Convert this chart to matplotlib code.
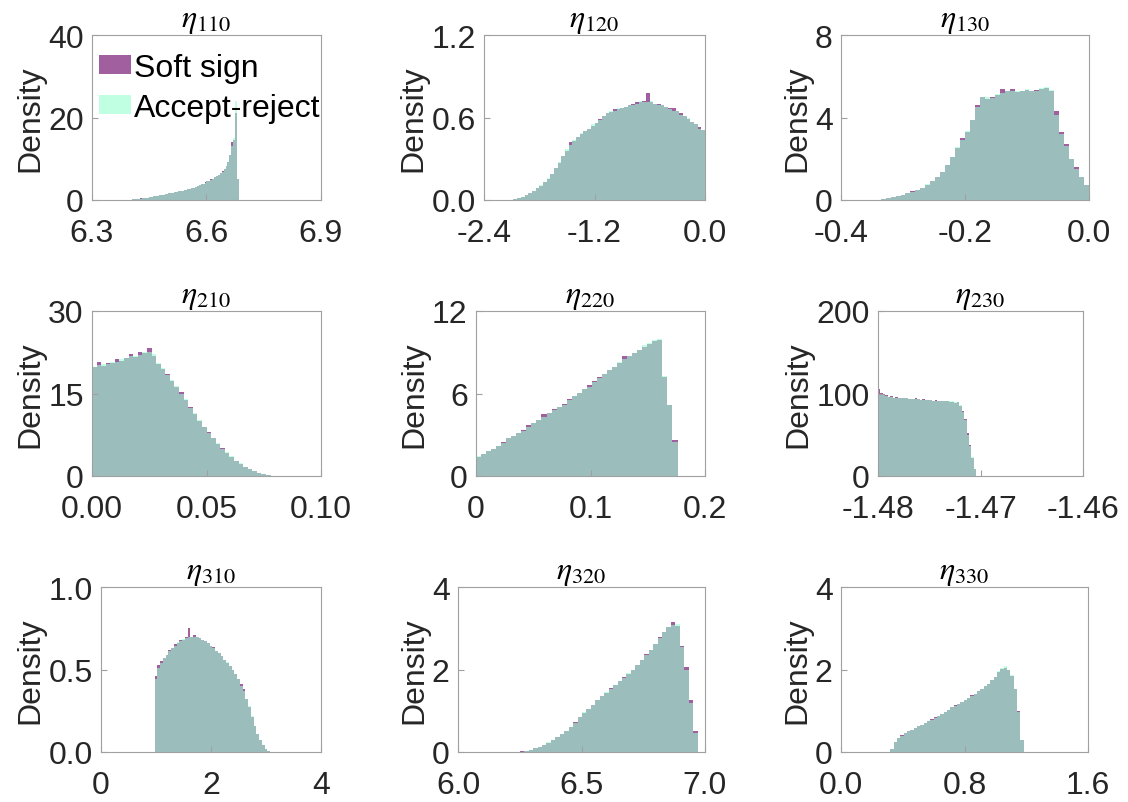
import numpy as np
import matplotlib
matplotlib.use("Agg")
import matplotlib.pyplot as plt

plt.rcParams["font.family"] = ["Liberation Sans", "DejaVu Sans"]
plt.rcParams["mathtext.fontset"] = "stix"

# panel titles and axis ticks
titles = [r"$\eta_{110}$", r"$\eta_{120}$", r"$\eta_{130}$",
          r"$\eta_{210}$", r"$\eta_{220}$", r"$\eta_{230}$",
          r"$\eta_{310}$", r"$\eta_{320}$", r"$\eta_{330}$"]
xtick_vals = [[6.3, 6.6, 6.9], [-2.4, -1.2, 0.0], [-0.4, -0.2, 0.0],
              [0.0, 0.05, 0.10], [0.0, 0.1, 0.2], [-1.48, -1.47, -1.46],
              [0, 2, 4], [6.0, 6.5, 7.0], [0.0, 0.8, 1.6]]
xtick_text = [["6.3", "6.6", "6.9"], ["-2.4", "-1.2", "0.0"], ["-0.4", "-0.2", "0.0"],
              ["0.00", "0.05", "0.10"], ["0", "0.1", "0.2"], ["-1.48", "-1.47", "-1.46"],
              ["0", "2", "4"], ["6.0", "6.5", "7.0"], ["0.0", "0.8", "1.6"]]
ytick_vals = [[0, 20, 40], [0.0, 0.6, 1.2], [0, 4, 8],
              [0, 15, 30], [0, 6, 12], [0, 100, 200],
              [0.0, 0.5, 1.0], [0, 2, 4], [0, 2, 4]]
ytick_text = [["0", "20", "40"], ["0.0", "0.6", "1.2"], ["0", "4", "8"],
              ["0", "15", "30"], ["0", "6", "12"], ["0", "100", "200"],
              ["0.0", "0.5", "1.0"], ["0", "2", "4"], ["0", "2", "4"]]

# histogram support (first and last bin edge) per panel
bin_ranges = [(6.40, 6.685), (-2.08, 0.0), (-0.336, 0.0),
              (0.0, 0.08), (0.0, 0.176), (-1.48, -1.4704),
              (0.975, 3.075), (6.25, 6.97), (0.32, 1.184)]

# densities
soft_110 = [0.1, 0.15, 0.2, 0.25, 0.3, 0.4, 0.45, 0.5, 0.55, 0.6,
            0.7, 0.8, 0.85, 0.95, 1.0, 1.1, 1.2, 1.3, 1.4, 1.5,
            1.6, 1.7, 1.8, 1.9, 2.0, 2.1, 2.2, 2.3, 2.4, 2.5,
            2.6, 2.75, 2.9, 3.0, 3.2, 3.4, 3.6, 3.8, 4.0, 4.3,
            4.5, 4.7, 5.0, 5.2, 5.5, 5.8, 6.1, 6.5, 7.0, 7.5,
            8.3, 9.3, 11.0, 14.0, 14.5, 21.0, 5.0]
ar_110 = [0.1, 0.15, 0.2, 0.25, 0.3, 0.35, 0.45, 0.5, 0.55, 0.6,
          0.7, 0.75, 0.85, 0.9, 1.0, 1.1, 1.2, 1.3, 1.35, 1.5,
          1.6, 1.7, 1.8, 1.9, 2.0, 2.1, 2.2, 2.3, 2.4, 2.5,
          2.6, 2.7, 2.9, 3.0, 3.2, 3.4, 3.6, 3.8, 4.0, 4.2,
          4.5, 4.7, 4.9, 5.2, 5.5, 5.8, 6.1, 6.5, 6.8, 7.5,
          8.3, 9.3, 11.0, 13.2, 15.0, 24.0, 5.0]

soft_120 = [0.005, 0.012, 0.02, 0.035, 0.05, 0.065, 0.085, 0.105, 0.13, 0.155,
            0.19, 0.23, 0.27, 0.32, 0.36, 0.42, 0.43, 0.46, 0.48, 0.50,
            0.52, 0.54, 0.56, 0.59, 0.61, 0.63, 0.64, 0.66, 0.66, 0.67,
            0.68, 0.69, 0.70, 0.71, 0.71, 0.72, 0.78, 0.71, 0.70, 0.70,
            0.69, 0.68, 0.67, 0.67, 0.65, 0.63, 0.61, 0.59, 0.57, 0.55,
            0.53, 0.51]
ar_120 = [0.004, 0.012, 0.022, 0.035, 0.052, 0.068, 0.085, 0.11, 0.13, 0.16,
          0.19, 0.23, 0.28, 0.32, 0.37, 0.40, 0.44, 0.46, 0.49, 0.50,
          0.52, 0.55, 0.56, 0.58, 0.61, 0.63, 0.65, 0.65, 0.67, 0.67,
          0.68, 0.69, 0.69, 0.70, 0.72, 0.71, 0.71, 0.72, 0.70, 0.69,
          0.69, 0.68, 0.66, 0.65, 0.65, 0.62, 0.61, 0.60, 0.57, 0.55,
          0.52, 0.51]

soft_130 = [0.05, 0.1, 0.15, 0.2, 0.26, 0.32, 0.42, 0.5, 0.6, 0.75,
            0.92, 1.1, 1.35, 1.7, 2.1, 2.5, 3.0, 3.3, 3.9, 4.6,
            5.0, 4.9, 5.0, 5.1, 5.4, 5.3, 5.4, 5.25, 5.3, 5.35,
            5.3, 5.35, 5.4, 5.45, 5.3, 4.3, 3.3, 2.7, 2.0, 1.6,
            1.1, 0.75]
ar_130 = [0.05, 0.1, 0.15, 0.21, 0.26, 0.33, 0.4, 0.48, 0.6, 0.76,
          0.92, 1.1, 1.38, 1.7, 2.1, 2.55, 2.9, 3.35, 3.9, 4.5,
          5.0, 5.0, 4.95, 5.15, 5.2, 5.3, 5.3, 5.3, 5.3, 5.4,
          5.3, 5.3, 5.45, 5.5, 5.35, 4.1, 3.2, 2.6, 2.0, 1.5,
          1.1, 0.75]

soft_210 = [19.8, 20.8, 20.0, 20.6, 20.6, 21.2, 21.0, 21.4, 22.2, 21.6,
            22.6, 22.3, 23.2, 21.8, 20.3, 19.4, 18.6, 17.3, 16.2, 15.2,
            13.8, 12.6, 11.2, 10.0, 8.9, 8.0, 6.9, 5.9, 5.1, 4.2,
            3.5, 2.8, 2.2, 1.7, 1.3, 0.9, 0.6, 0.35, 0.2, 0.06]
ar_210 = [19.9, 20.2, 20.3, 20.4, 20.8, 20.8, 21.2, 21.5, 21.8, 21.9,
          22.0, 22.5, 22.6, 22.2, 20.5, 19.6, 18.4, 17.5, 16.3, 15.0,
          14.0, 12.4, 11.4, 10.1, 9.0, 7.9, 7.0, 6.0, 5.0, 4.3,
          3.6, 2.8, 2.3, 1.7, 1.3, 0.95, 0.6, 0.4, 0.18, 0.06]

soft_220 = [1.4, 1.6, 1.8, 2.0, 2.2, 2.5, 2.75, 2.9, 3.1, 3.35,
            3.7, 3.85, 4.1, 4.5, 4.6, 4.9, 5.0, 5.25, 5.6, 5.8,
            6.05, 6.3, 6.6, 6.9, 7.2, 7.4, 7.7, 7.95, 8.2, 8.7,
            8.7, 8.95, 9.2, 9.4, 9.6, 9.8, 9.9, 7.2, 5.2, 2.6]
ar_220 = [1.45, 1.6, 1.8, 2.0, 2.2, 2.4, 2.75, 2.9, 3.1, 3.3,
          3.6, 3.85, 4.1, 4.3, 4.6, 4.8, 5.0, 5.2, 5.5, 5.8,
          6.05, 6.3, 6.5, 6.85, 7.1, 7.4, 7.7, 7.9, 8.3, 8.5,
          8.7, 8.95, 9.2, 9.5, 9.7, 9.9, 10.0, 7.3, 5.2, 2.5]

soft_230 = [105, 101, 99, 98, 96, 97, 95, 96, 94.5, 94,
            94, 95, 93.5, 93.5, 93, 94, 93, 92.5, 93.5, 92,
            92, 92, 91.5, 92, 91, 91, 91, 90.5, 90.5, 90,
            90, 89, 90, 85, 79, 69, 52, 37, 22, 8]
ar_230 = [100, 99, 98, 97, 96, 95.5, 95, 95, 94.5, 94,
          94, 94, 93.5, 93, 93, 93, 93, 92.5, 92.5, 92,
          92.5, 92, 91.5, 91.5, 91, 91.5, 91, 91, 90.5, 90.5,
          91, 90, 90, 86, 78, 68, 50, 36, 23, 8]

soft_310 = [0.46, 0.53, 0.55, 0.57, 0.59, 0.62, 0.63, 0.655, 0.66, 0.68,
            0.68, 0.70, 0.75, 0.70, 0.71, 0.70, 0.69, 0.68, 0.67, 0.66,
            0.645, 0.635, 0.615, 0.60, 0.58, 0.56, 0.54, 0.52, 0.50, 0.47,
            0.44, 0.41, 0.38, 0.32, 0.27, 0.21, 0.16, 0.11, 0.07, 0.04,
            0.02, 0.005]
ar_310 = [0.44, 0.51, 0.54, 0.57, 0.59, 0.61, 0.63, 0.645, 0.665, 0.67,
          0.685, 0.69, 0.70, 0.70, 0.70, 0.70, 0.69, 0.68, 0.67, 0.66,
          0.645, 0.63, 0.615, 0.60, 0.58, 0.56, 0.545, 0.52, 0.50, 0.47,
          0.44, 0.40, 0.37, 0.32, 0.28, 0.22, 0.16, 0.11, 0.07, 0.04,
          0.02, 0.006]

soft_320 = [0.02, 0.03, 0.06, 0.09, 0.13, 0.18, 0.23, 0.29, 0.36, 0.43,
            0.51, 0.60, 0.72, 0.85, 0.95, 1.05, 1.15, 1.26, 1.35, 1.44,
            1.55, 1.62, 1.71, 1.83, 1.90, 2.00, 2.12, 2.22, 2.37, 2.48,
            2.62, 2.78, 2.90, 3.02, 3.14, 3.05, 2.58, 2.05, 1.25, 0.50]
ar_320 = [0.01, 0.03, 0.06, 0.1, 0.13, 0.18, 0.24, 0.29, 0.36, 0.44,
          0.51, 0.61, 0.70, 0.84, 0.96, 1.05, 1.14, 1.25, 1.36, 1.45,
          1.53, 1.62, 1.72, 1.80, 1.91, 2.00, 2.10, 2.23, 2.35, 2.47,
          2.63, 2.76, 2.92, 3.03, 3.08, 3.10, 2.55, 2.00, 1.20, 0.45]

soft_330 = [0.08, 0.25, 0.33, 0.41, 0.46, 0.50, 0.54, 0.58, 0.62, 0.66,
            0.71, 0.74, 0.79, 0.84, 0.88, 0.93, 0.98, 1.03, 1.08, 1.13,
            1.17, 1.21, 1.26, 1.31, 1.37, 1.41, 1.47, 1.53, 1.59, 1.66,
            1.74, 1.82, 1.95, 2.01, 2.03, 1.98, 1.85, 1.52, 1.00, 0.30]
ar_330 = [0.08, 0.24, 0.33, 0.40, 0.46, 0.50, 0.54, 0.58, 0.62, 0.66,
          0.70, 0.74, 0.78, 0.83, 0.88, 0.93, 0.98, 1.02, 1.08, 1.12,
          1.17, 1.21, 1.26, 1.31, 1.36, 1.41, 1.47, 1.53, 1.59, 1.66,
          1.74, 1.83, 1.96, 2.04, 2.08, 1.98, 1.86, 1.52, 0.98, 0.30]

soft_sign = [soft_110, soft_120, soft_130, soft_210, soft_220, soft_230,
             soft_310, soft_320, soft_330]
accept_reject = [ar_110, ar_120, ar_130, ar_210, ar_220, ar_230,
                 ar_310, ar_320, ar_330]

PURPLE = "#a15fa0"
MINT = "#98ffd0"
GRID_GRAY = "#a0a0a0"
TXT = "#262626"

# axes boxes in pixels: left, right, top, bottom
W, H = 1128, 803
boxes = [(92, 321, 36, 201), (484, 705, 36, 201), (841, 1089, 36, 201),
         (92, 321, 312, 477), (476, 705, 312, 477), (878, 1083, 312, 477),
         (101, 321, 588, 753), (458, 705, 588, 753), (841, 1088, 588, 753)]

fig = plt.figure(figsize=(W / 100, H / 100), dpi=100)

for i in range(9):
    l, r, t, b = boxes[i]
    ax = fig.add_axes([l / W, 1 - b / H, (r - l) / W, (b - t) / H])
    lo, hi = bin_ranges[i]
    edges = np.linspace(lo, hi, len(soft_sign[i]) + 1)
    ax.stairs(soft_sign[i], edges, fill=True, color=PURPLE, lw=0, label="Soft sign")
    ax.stairs(accept_reject[i], edges, fill=True, color=MINT, alpha=0.6, lw=0,
              label="Accept-reject")

    ax.set_xlim(xtick_vals[i][0], xtick_vals[i][-1])
    ax.set_ylim(ytick_vals[i][0], ytick_vals[i][-1])
    ax.set_xticks(xtick_vals[i], xtick_text[i])
    ax.set_yticks(ytick_vals[i], ytick_text[i])
    ax.tick_params(direction="in", length=4, width=0.8, color=GRID_GRAY,
                   labelsize=23, labelcolor=TXT)
    ax.tick_params(axis="x", pad=13)
    ax.tick_params(axis="y", pad=6)
    for s in ax.spines.values():
        s.set_color(GRID_GRAY)
        s.set_linewidth(0.8)
    ax.set_ylabel("Density", fontsize=23, color=TXT, labelpad=2)
    ax.set_title(titles[i], fontsize=23, pad=4)

    if i == 0:
        ax.legend(loc="upper left", bbox_to_anchor=(0.03, 0.89), frameon=False,
                  fontsize=23, borderpad=0, handlelength=1.0, handleheight=0.55,
                  handletextpad=0.1, labelspacing=0.3, borderaxespad=0)

fig.savefig("out.png", dpi=100, facecolor="white")
